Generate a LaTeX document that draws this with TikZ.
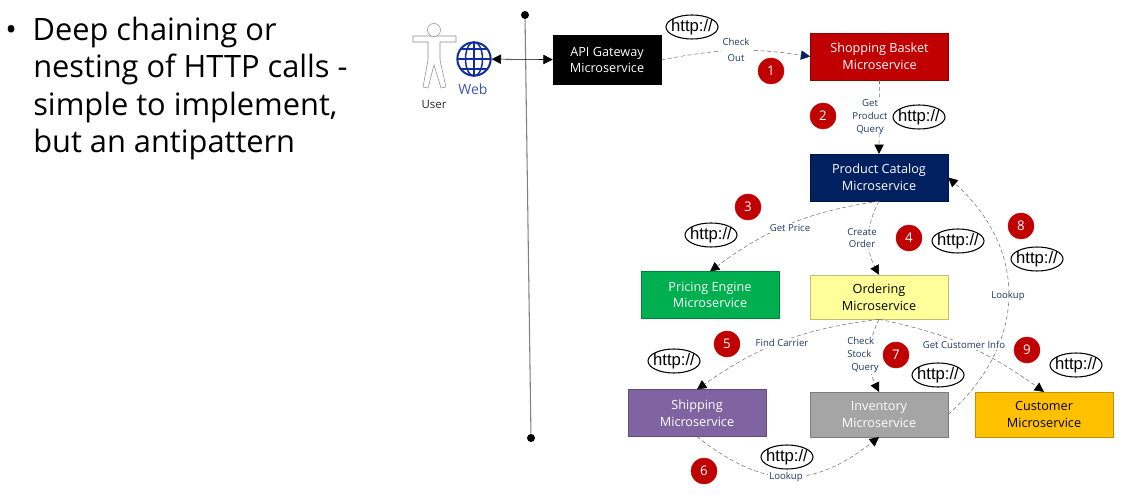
\documentclass[tikz,border=0pt]{standalone}
\usepackage{fontspec}
\setmainfont{Open Sans}
\newfontfamily\httpfont{Liberation Sans}
\usetikzlibrary{arrows.meta,shapes.geometric}
\definecolor{msblack}{HTML}{000000}
\definecolor{msred}{HTML}{C00000}
\definecolor{msnavy}{HTML}{002060}
\definecolor{msgreen}{HTML}{00B050}
\definecolor{msyellow}{HTML}{FFFF99}
\definecolor{mspurple}{HTML}{8064A2}
\definecolor{msgray}{HTML}{A5A5A5}
\definecolor{msorange}{HTML}{FFC000}
\definecolor{labelblue}{HTML}{1F3864}
\definecolor{globeblue}{HTML}{0F2CA0}
\definecolor{linegray}{HTML}{707070}
\tikzset{
msbox/.style={draw=#1!75!black,fill=#1,text=white,minimum width=103.5pt,minimum height=35pt,inner sep=0pt,align=center,font=\fontsize{9.5}{12.6}\selectfont},
badge/.style={circle,fill=msred,draw=msred,text=white,minimum size=19.5pt,inner sep=0pt,font=\fontsize{10}{12}\selectfont},
httptag/.style={ellipse,draw=black,fill=white,thick,minimum width=39pt,minimum height=18pt,inner xsep=-5pt,inner ysep=-2pt,font=\httpfont\fontsize{12.5}{14}\selectfont},
calllabel/.style={fill=white,text=labelblue,inner sep=0.8pt,align=center,font=\fontsize{7.2}{9.6}\selectfont},
call/.style={densely dashed,draw=linegray,-{Triangle[length=7pt,width=7pt,color=black]}},
}
\begin{document}
\begin{tikzpicture}[x=0.75pt,y=-0.75pt]
\useasboundingbox (0,0) rectangle (1127,495);
\node[anchor=north west,align=left,inner sep=0pt,font=\fontsize{23.1}{28}\selectfont] (points) at (5,17) {\textbullet\hspace{11.8pt}Deep chaining or\\\hspace{21pt}nesting of HTTP calls -\\\hspace{21pt}simple to implement,\\\hspace{21pt}but an antipattern}; %Bullet text
\node[circle,fill=black,minimum size=6pt,inner sep=0pt] (topdot) at (525,15) {};
\node[circle,fill=black,minimum size=6pt,inner sep=0pt] (bottomdot) at (531,438) {};
\draw[gray,line width=0.8pt] (topdot) -- (bottomdot); %Vertical divider
\draw[black!45,fill=white] (428,36) -- (413,36) -- (413,42) -- (428,42) -- (428,60) -- (423,87) -- (428,88) -- (434,65) -- (441,88) -- (446,87) -- (440,60) -- (440,42) -- (456,42) -- (456,36) -- (440,36) -- cycle; %User outline
\draw[black!45,fill=white] (434,30) circle (6.5);
\node[font=\fontsize{8.6}{10}\selectfont,text=black!85] (user) at (434,104) {User};
\node[circle,draw=globeblue,line width=1.5pt,minimum size=25pt,inner sep=0pt] (web) at (474,59) {};
\draw[globeblue,line width=1.1pt] (474,42) -- (474,76);
\draw[globeblue,line width=1.1pt] (474,59) ellipse (8.5 and 17);
\draw[globeblue,line width=1.1pt] (457.5,59) -- (490.5,59);
\draw[globeblue,line width=1.1pt] (460,49) -- (488,49);
\draw[globeblue,line width=1.1pt] (460,69) -- (488,69);
\node[font=\fontsize{10.5}{12}\selectfont,text=globeblue!80] (webtext) at (473,89) {Web};
\node[msbox=msblack,minimum width=81pt,minimum height=37pt] (gateway) at (607,60) {API Gateway\\Microservice};
\node[msbox=msred] (basket) at (879.5,56.5) {Shopping Basket\\Microservice};
\node[msbox=msnavy] (catalog) at (879,177.5) {Product Catalog\\Microservice};
\node[msbox=msgreen] (pricing) at (710,295) {Pricing Engine\\Microservice};
\node[msbox=msyellow,text=black,minimum height=33pt] (ordering) at (879,297) {Ordering\\Microservice};
\node[msbox=mspurple] (shipping) at (697,413) {Shipping\\Microservice};
\node[msbox=msgray,minimum height=33.5pt] (inventory) at (879,414.5) {Inventory\\Microservice};
\node[msbox=msorange,text=black,minimum height=33.5pt] (customer) at (1044,414.5) {Customer\\Microservice};
\draw[{Triangle[length=7pt,width=7pt]}-{Triangle[length=7pt,width=7pt]},black] (web) -- (gateway); %User side
\draw[call,-{Triangle[length=7pt,width=7pt,color=msnavy]}] (gateway.east) to[bend left=10] (basket.west); %Calls between services
\draw[call] (basket.south) -- (catalog.north);
\draw[call] (catalog.south) to[bend right=14] (pricing.north);
\draw[call] (catalog.south) to[bend right=28] (ordering.north);
\draw[call] (ordering.south) to[bend right=14] (shipping.north);
\draw[call] (shipping.south) to[bend right=38,looseness=1.2] (inventory.south);
\draw[call] (ordering.south) to[bend right=26] (inventory.north);
\draw[call] (inventory.east) to[bend right=48,looseness=1.16] (catalog.east);
\draw[call] (ordering.south) to[bend left=12] (customer.north);
\node[calllabel] (checkout) at (736,50) {Check\\[3pt]Out};
\node[calllabel] (getproduct) at (870,117) {Get\\Product\\Query};
\node[calllabel] (getprice) at (790,228) {Get Price};
\node[calllabel] (createorder) at (862,238) {Create\\Order};
\node[calllabel] (findcarrier) at (782,343) {Find Carrier};
\node[calllabel,align=left] (checkstock) at (863,355) {Check\\Stock\\\hspace{3pt}Query};
\node[calllabel] (customerinfo) at (964,345) {Get Customer Info};
\node[calllabel] (lookupcatalog) at (1008,296) {Lookup};
\node[calllabel] (lookupstock) at (786,477) {Lookup};
\node[badge] (one) at (771,71) {1};
\node[badge] (two) at (823,116) {2};
\node[badge] (three) at (748,207) {3};
\node[badge] (four) at (909,238) {4};
\node[badge] (five) at (727,344) {5};
\node[badge] (six) at (704,471) {6};
\node[badge] (seven) at (896,355) {7};
\node[badge] (eight) at (1021,226) {8};
\node[badge] (nine) at (1027,350) {9};
\node[httptag] (httpone) at (692,27) {http://};
\node[httptag] (httptwo) at (919,117) {http://};
\node[httptag] (httpthree) at (711,235) {http://};
\node[httptag] (httpfour) at (958,241) {http://};
\node[httptag] (httpfive) at (674,361) {http://};
\node[httptag] (httpsix) at (787,457) {http://};
\node[httptag] (httpseven) at (938,375) {http://};
\node[httptag] (httpeight) at (1037,259) {http://};
\node[httptag] (httpnine) at (1076,365) {http://};
\end{tikzpicture}
\end{document}
